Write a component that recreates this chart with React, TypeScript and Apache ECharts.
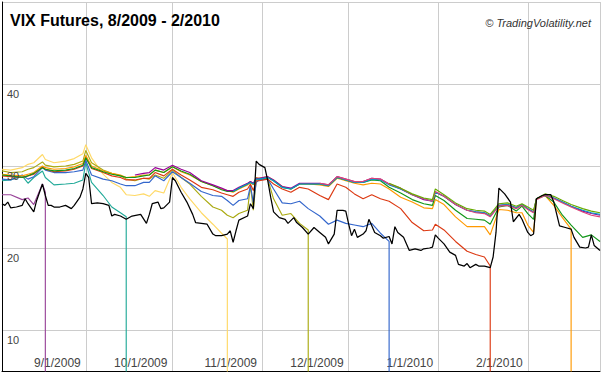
import React, { useEffect, useRef } from 'react';
import * as echarts from 'echarts';

const TITLE = 'VIX Futures, 8/2009 - 2/2010';
const CREDIT = '\u00A9 TradingVolatility.net';
const X_MIN = '2009-08-03';
const X_MAX = '2010-02-26';
const Y_MIN = 5;
const Y_MAX = 50;
const Y_GRID = [10, 20, 30, 40, 50];
const Y_LABELS = [10, 20, 30, 40];

// VIX index (black)
const VIX_DATES = [
  '2009-08-03','2009-08-04','2009-08-05','2009-08-06','2009-08-08','2009-08-10','2009-08-11','2009-08-12','2009-08-14','2009-08-15',
  '2009-08-17','2009-08-18','2009-08-19','2009-08-20','2009-08-21','2009-08-23','2009-08-25','2009-08-27','2009-08-28','2009-08-30',
  '2009-08-31','2009-09-01','2009-09-02','2009-09-03','2009-09-05','2009-09-07','2009-09-09','2009-09-10','2009-09-11','2009-09-13',
  '2009-09-15','2009-09-17','2009-09-20','2009-09-22','2009-09-23','2009-09-24','2009-09-26','2009-09-27','2009-09-28','2009-09-30',
  '2009-10-01','2009-10-02','2009-10-04','2009-10-06','2009-10-08','2009-10-09','2009-10-11','2009-10-13','2009-10-15','2009-10-16',
  '2009-10-18','2009-10-20','2009-10-21','2009-10-22','2009-10-23','2009-10-24','2009-10-27','2009-10-28','2009-10-29','2009-10-30',
  '2009-10-31','2009-11-02','2009-11-03','2009-11-04','2009-11-05','2009-11-07','2009-11-09','2009-11-10','2009-11-12','2009-11-13',
  '2009-11-15','2009-11-17','2009-11-19','2009-11-21','2009-11-23','2009-11-24','2009-11-26','2009-11-27','2009-11-29','2009-11-30',
  '2009-12-01','2009-12-02','2009-12-03','2009-12-04','2009-12-06','2009-12-07','2009-12-08','2009-12-09','2009-12-10','2009-12-12',
  '2009-12-13','2009-12-15','2009-12-16','2009-12-17','2009-12-18','2009-12-20','2009-12-22','2009-12-24','2009-12-26','2009-12-27',
  '2009-12-29','2009-12-30','2009-12-31','2010-01-01','2010-01-03','2010-01-05','2010-01-07','2010-01-08','2010-01-10','2010-01-11',
  '2010-01-12','2010-01-14','2010-01-15','2010-01-17','2010-01-19','2010-01-20','2010-01-21','2010-01-22','2010-01-24','2010-01-26',
  '2010-01-27','2010-01-29','2010-01-30','2010-02-01','2010-02-02','2010-02-03','2010-02-04','2010-02-06','2010-02-07','2010-02-09',
  '2010-02-10','2010-02-12','2010-02-14','2010-02-16','2010-02-17','2010-02-19','2010-02-21','2010-02-22','2010-02-23','2010-02-24',
  '2010-02-25','2010-02-26'
];
const VIX_VALUES = [
  25.4,25.2,25.6,24.9,25.0,25.2,26.0,25.4,24.4,25.8,
  27.8,26.4,25.2,25.2,25.0,25.0,25.2,24.8,25.2,26.2,
  27.2,29.1,28.6,25.4,25.5,25.4,25.2,23.9,24.1,23.9,
  23.5,23.9,24.1,23.0,24.1,25.4,25.6,24.8,24.9,25.6,
  28.6,28.2,26.8,25.6,24.1,23.1,23.0,22.9,21.7,21.5,
  21.5,21.7,22.1,20.7,22.1,23.4,23.9,25.4,24.8,30.6,
  30.2,29.8,28.2,26.2,24.4,23.7,23.5,23.0,23.7,23.1,
  22.5,21.7,22.5,21.9,21.3,20.5,21.7,24.6,24.6,24.5,
  22.9,21.5,22.3,21.3,21.7,22.1,23.5,22.7,21.9,21.5,
  21.2,21.4,20.5,22.6,21.9,21.3,19.7,19.9,19.7,19.9,
  20.0,20.1,21.6,21.2,20.5,19.5,19.1,18.0,17.8,18.1,
  17.6,18.0,17.8,17.8,17.6,18.9,21.9,27.3,26.6,25.6,
  23.2,24.1,23.5,21.9,21.5,21.7,26.0,26.4,26.5,26.5,
  25.6,22.7,22.5,22.3,21.3,20.1,20.0,20.1,21.6,20.3,
  20.0,19.7
];

// Futures sample dates
const FUT_DATES = [
  '2009-08-03','2009-08-06','2009-08-10','2009-08-12','2009-08-14','2009-08-17','2009-08-18','2009-08-21','2009-08-25','2009-08-28',
  '2009-08-31','2009-09-01','2009-09-03','2009-09-07','2009-09-10','2009-09-13','2009-09-15','2009-09-18','2009-09-21','2009-09-23',
  '2009-09-25','2009-09-28','2009-10-01','2009-10-04','2009-10-07','2009-10-11','2009-10-15','2009-10-18','2009-10-20','2009-10-22',
  '2009-10-24','2009-10-27','2009-10-28','2009-10-29','2009-10-30','2009-10-31','2009-11-03','2009-11-05','2009-11-08','2009-11-11',
  '2009-11-14','2009-11-17','2009-11-21','2009-11-24','2009-11-27','2009-11-30','2009-12-03','2009-12-06','2009-12-09','2009-12-12',
  '2009-12-15','2009-12-19','2009-12-23','2009-12-27','2009-12-30','2009-12-31','2010-01-03','2010-01-07','2010-01-11','2010-01-14',
  '2010-01-17','2010-01-19','2010-01-22','2010-01-25','2010-01-28','2010-01-30','2010-02-01','2010-02-03','2010-02-04','2010-02-07',
  '2010-02-10','2010-02-13','2010-02-16','2010-02-20','2010-02-23','2010-02-26'
];

const AUG09 = [26.5,26.5,25.9,26.1,25.3,27.8,26.8];
const SEP09 = [28.2,28.3,28.8,27.9,28.6,29.4,28.6,27.7,27.8,27.9,28.3,30.4,28.0,26.4,25.0,24.3,23.8];
const OCT09 = [
  29.6,29.5,29.8,30.2,30.4,31.4,30.8,30.4,30.6,30.9,
  31.5,32.6,31.0,29.0,28.0,27.4,26.5,26.4,26.6,26.3,
  27.0,26.7,29.2,27.4,26.0,24.3,22.9,21.8,21.1
];
const NOV09 = [
  29.4,29.2,29.3,29.6,29.8,30.5,30.1,29.9,30.0,30.2,
  30.6,31.9,30.4,29.5,29.1,28.8,28.4,28.2,28.5,28.4,
  28.9,28.5,29.5,28.6,27.8,26.3,25.0,24.6,24.0,23.7,
  24.2,24.6,27.6,24.6,28.3,28.5,28.4,26.0,24.0,24.2,
  23.0,22.2
];
const DEC09 = [
  28.4,28.3,28.9,28.4,28.7,29.8,29.5,29.2,29.2,29.3,
  29.5,30.7,28.9,28.4,28.2,27.8,27.6,27.6,28.0,28.0,
  28.8,28.2,29.3,28.6,27.9,26.9,26.4,26.3,25.8,25.2,
  25.8,26.0,27.6,25.5,28.0,28.3,28.4,27.2,25.5,25.4,
  25.7,24.8,23.9,22.9,23.4,23.0,22.8,22.6,23.0,21.8,
  20.8
];
const JAN10 = [
  28.8,28.7,28.6,28.8,29.0,29.9,29.6,29.3,29.4,29.6,
  30.0,31.1,29.7,29.2,28.8,28.6,28.3,28.3,28.5,28.5,
  29.2,28.8,29.6,28.9,28.3,27.4,27.1,26.7,26.5,26.3,
  26.8,27.2,27.8,27.0,28.2,28.2,28.4,27.8,27.2,26.8,
  27.4,27.2,26.4,25.9,27.8,27.4,26.6,26.0,26.5,26.0,
  25.7,24.8,23.1,22.1,22.2,22.9,22.2,20.8,19.6,19.2,
  18.9,17.8
];
const FEB10 = [
  29.0,28.9,28.8,29.0,29.2,30.0,29.8,29.6,29.7,29.9,
  30.3,31.3,30.0,29.4,29.1,28.9,28.6,28.7,28.9,28.9,
  29.5,29.2,29.9,29.3,28.9,28.1,27.6,27.2,27.0,26.8,
  27.2,27.7,28.0,27.7,28.6,28.5,28.7,28.3,27.5,27.2,
  27.8,27.8,27.7,27.5,28.5,28.2,27.9,27.7,27.9,27.8,
  27.2,26.2,25.6,24.9,24.8,25.9,25.3,23.8,22.6,22.6,
  22.6,21.6,24.7,24.6,24.3,24.3,22.8,21.9,26.0,26.4,
  25.2,23.7,22.3
];
const MAR10 = [
  28.9,28.8,28.6,28.8,29.1,29.8,29.6,29.4,29.5,29.7,
  30.1,31.0,29.8,29.3,29.0,28.8,28.6,28.6,28.8,28.9,
  29.5,29.2,29.9,29.4,29.0,28.1,27.6,27.1,26.9,26.9,
  27.3,27.8,28.1,27.8,28.5,28.4,28.6,28.2,27.4,27.2,
  27.8,27.8,27.8,27.6,28.6,28.3,28.0,28.0,28.3,28.2,
  27.4,26.7,25.9,25.4,25.2,26.4,25.8,24.6,23.6,23.5,
  23.4,22.9,25.0,25.2,24.5,25.1,24.2,23.5,26.0,26.4,
  25.6,24.0,22.8,21.3,21.6,20.8
];
const APR10 = [
  28.9,29.1,29.2,29.8,29.5,30.1,29.6,29.2,28.2,27.7,
  27.3,27.0,27.0,27.4,27.9,28.1,27.9,28.5,28.5,28.7,
  28.3,27.5,27.3,27.9,27.9,27.9,27.7,28.7,28.4,28.1,
  28.1,28.5,28.4,27.8,27.2,26.5,25.9,25.7,26.8,26.3,
  25.3,24.6,24.4,24.3,23.9,25.2,25.3,24.9,25.3,24.8,
  24.4,26.0,26.5,26.1,25.6,25.1,24.5,24.2,24.0
];
const MAY10 = [
  26.9,27.3,27.8,28.0,27.8,28.4,28.4,28.6,28.2,27.4,
  27.2,27.8,27.8,27.8,27.6,28.6,28.3,28.0,28.0,28.4,
  28.3,27.7,27.2,26.5,26.0,25.7,26.8,26.3,25.3,24.6,
  24.4,24.3,23.9,25.2,25.3,24.9,25.3,24.8,24.4,26.0,
  26.4,26.1,25.6,25.1,24.6,24.3,24.1
];
const JUN10 = [
  27.9,27.7,28.7,28.4,28.1,28.1,28.5,28.4,27.8,27.3,
  26.5,26.0,25.7,26.9,26.3,25.3,24.6,24.3,24.2,23.8,
  25.1,25.2,24.8,25.2,24.7,24.3,25.9,26.4,26.0,25.5,
  25.0,24.4,24.0,23.8
];
const JUL10 = [
  27.9,27.3,26.6,26.1,25.9,27.2,26.5,25.5,24.8,24.6,
  24.5,24.1,25.4,25.5,25.1,25.4,25.0,24.6,26.0,26.6,
  26.3,25.8,25.3,24.8,24.5,24.3
];

const CONTRACTS = [
  { name: 'Aug 09', color: '#994499', from: '2009-08-03', values: AUG09, expires: true },
  { name: 'Sep 09', color: '#22aa99', from: '2009-08-03', values: SEP09, expires: true },
  { name: 'Oct 09', color: '#ffd966', from: '2009-08-03', values: OCT09, expires: true },
  { name: 'Nov 09', color: '#aaaa11', from: '2009-08-03', values: NOV09, expires: true },
  { name: 'Dec 09', color: '#3366cc', from: '2009-08-03', values: DEC09, expires: true },
  { name: 'Jan 10', color: '#dc3912', from: '2009-08-03', values: JAN10, expires: true },
  { name: 'Feb 10', color: '#ff9900', from: '2009-08-03', values: FEB10, expires: true },
  { name: 'Mar 10', color: '#109618', from: '2009-08-03', values: MAR10, expires: false },
  { name: 'Apr 10', color: '#990099', from: '2009-09-18', values: APR10, expires: false },
  { name: 'May 10', color: '#0099c6', from: '2009-10-22', values: MAY10, expires: false },
  { name: 'Jun 10', color: '#dd4477', from: '2009-11-21', values: JUN10, expires: false },
  { name: 'Jul 10', color: '#66aa00', from: '2009-12-15', values: JUL10, expires: false },
];

const FONT = "'Liberation Sans', Arial, sans-serif";

export default function App() {
  const ref = useRef<HTMLDivElement>(null);
  useEffect(() => {
    if (!ref.current) return;
    const chart = echarts.init(ref.current, null, { renderer: 'svg' });

    const futSeries = CONTRACTS.map((c) => {
      const start = FUT_DATES.indexOf(c.from);
      const data: any[] = c.values.map((v, i) => [FUT_DATES[start + i], v]);
      if (c.expires) {
        const last = FUT_DATES[start + c.values.length - 1];
        data.push([last, 0]);
      }
      return {
        type: 'line',
        name: c.name,
        data,
        showSymbol: false,
        symbol: 'none',
        clip: true,
        silent: true,
        lineStyle: { color: c.color, width: 1.15 },
        itemStyle: { color: c.color },
      };
    });

    const vixSeries = {
      type: 'line',
      name: 'VIX',
      data: VIX_DATES.map((d, i) => [d, VIX_VALUES[i]]),
      showSymbol: false,
      symbol: 'none',
      clip: true,
      silent: true,
      lineStyle: { color: '#000000', width: 1.25 },
      itemStyle: { color: '#000000' },
      z: 3,
    };

    const labelStyle = {
      customValues: Y_LABELS,
      inside: true,
      margin: 5,
      verticalAlign: 'top',
      padding: [4, 0, 0, 0],
      color: '#444444',
      fontSize: 11,
      fontFamily: FONT,
    };

    chart.setOption({
      animation: false,
      backgroundColor: '#ffffff',
      title: [
        {
          text: TITLE, left: 10, top: 12, padding: 0,
          textStyle: { fontFamily: FONT, fontSize: 16, fontWeight: 'bold', color: '#000000' },
        },
        {
          text: CREDIT, right: 11, top: 17, padding: 0,
          textStyle: { fontFamily: FONT, fontSize: 11, fontStyle: 'italic', fontWeight: 'normal', color: '#333333' },
        },
      ],
      grid: { left: 2, right: 2, top: 2, bottom: 3, containLabel: false, outerBoundsMode: 'none' },
      xAxis: {
        type: 'time',
        min: X_MIN,
        max: X_MAX,
        splitNumber: 7,
        minInterval: 28 * 86400000,
        maxInterval: 31 * 86400000,
        axisLine: { show: true, lineStyle: { color: '#000000', width: 1 } },
        axisTick: { show: false },
        axisLabel: {
          inside: true,
          align: 'right',
          verticalAlign: 'bottom',
          margin: 2,
          padding: [0, 5, 0, 0],
          formatter: '{M}/{d}/{yyyy}',
          showMinLabel: false,
          showMaxLabel: false,
          color: '#444444',
          fontSize: 12,
          fontFamily: FONT,
        },
        splitLine: { show: true, lineStyle: { color: '#cccccc', width: 1 } },
      },
      yAxis: [
        {
          type: 'value',
          min: Y_MIN,
          max: Y_MAX,
          position: 'left',
          axisLine: { show: true, lineStyle: { color: '#000000', width: 1 } },
          axisTick: { show: false, customValues: Y_GRID },
          axisLabel: { show: false },
          splitLine: { show: true, lineStyle: { color: '#cccccc', width: 1 } },
        },
        {
          type: 'value',
          min: Y_MIN,
          max: Y_MAX,
          position: 'left',
          offset: 0,
          z: 10,
          axisLine: { show: false },
          axisTick: { show: false, customValues: Y_GRID },
          axisLabel: labelStyle,
          splitLine: { show: false },
        },
      ],
      series: [...futSeries, vixSeries],
    });

    return () => chart.dispose();
  }, []);

  return <div ref={ref} style={{ width: 602, height: 374, position: 'absolute', left: 0, top: 0 }} />;
}
